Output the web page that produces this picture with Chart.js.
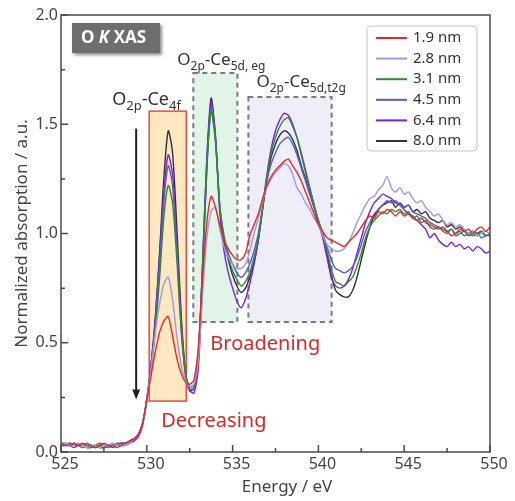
<!DOCTYPE html>
<html>
<head>
<meta charset="utf-8">
<script src="https://cdn.jsdelivr.net/npm/chart.js@4.4.1/dist/chart.umd.min.js"></script>
<style>
  html, body { margin: 0; padding: 0; background: #fff; }
</style>
</head>
<body>
<canvas id="xas" width="515" height="501"></canvas>
<script>
// energy grid, eV (0.25 eV steps from 525 to 550)
const energy = [];
for (let e = 525; e <= 550.001; e += 0.25) energy.push(+e.toFixed(2));

const sizes = ['1.9 nm', '2.8 nm', '3.1 nm', '4.5 nm', '6.4 nm', '8.0 nm'];
const colors = ['#e62828', '#a496e0', '#2e8b2e', '#5a5ac8', '#7a1fe6', '#333333'];

// normalized absorption, one value per grid point (rows = 1 eV)
const nm19 = [
  0.04, 0.03, 0.03, 0.04,  0.03, 0.04, 0.03, 0.03,  0.02, 0.03, 0.04, 0.03,
  0.03, 0.02, 0.03, 0.04,  0.05, 0.06, 0.08, 0.13,
  0.24, 0.35, 0.46, 0.55,  0.60, 0.62, 0.53, 0.43,  0.36, 0.32, 0.31, 0.33,
  0.48, 0.80, 1.05, 1.17,  1.12, 1.04, 0.97, 0.93,  0.90, 0.88, 0.88, 0.91,
  0.99, 1.04, 1.09, 1.16,  1.22, 1.26, 1.29, 1.31,  1.33, 1.34, 1.31, 1.28,
  1.24, 1.19, 1.14, 1.09,  1.04, 1.01, 0.98, 0.97,  0.96, 0.95, 0.94, 0.96,
  0.98, 1.00, 1.03, 1.06,  1.08, 1.07, 1.10, 1.09,  1.11, 1.10, 1.08, 1.10,
  1.08, 1.09, 1.07, 1.06,  1.07, 1.05, 1.04, 1.03,  1.02, 1.03, 1.01, 0.99,
  1.00, 1.02, 1.01, 1.02,  1.00, 1.02, 1.03, 1.01,  1.03
];
const nm28 = [
  0.03, 0.04, 0.03, 0.03,  0.04, 0.03, 0.02, 0.03,  0.03, 0.02, 0.03, 0.03,
  0.04, 0.03, 0.03, 0.03,  0.04, 0.06, 0.08, 0.13,
  0.24, 0.38, 0.55, 0.68,  0.77, 0.80, 0.70, 0.53,  0.40, 0.33, 0.30, 0.31,
  0.42, 0.72, 0.98, 1.10,  1.12, 1.02, 0.94, 0.89,  0.86, 0.84, 0.84, 0.86,
  0.92, 1.00, 1.07, 1.15,  1.21, 1.25, 1.28, 1.30,  1.32, 1.31, 1.27, 1.21,
  1.18, 1.14, 1.11, 1.07,  1.04, 0.99, 0.95, 0.93,  0.92, 0.92, 0.93, 0.96,
  1.00, 1.05, 1.09, 1.13,  1.16, 1.17, 1.20, 1.22,  1.26, 1.21, 1.19, 1.21,
  1.18, 1.19, 1.16, 1.14,  1.15, 1.12, 1.10, 1.08,  1.09, 1.06, 1.04, 1.05,
  1.03, 1.04, 1.02, 1.00,  1.01, 0.99, 1.00, 1.01,  1.00
];
const nm31 = [
  0.04, 0.04, 0.03, 0.04,  0.03, 0.03, 0.04, 0.03,  0.03, 0.04, 0.03, 0.03,
  0.03, 0.04, 0.04, 0.04,  0.05, 0.06, 0.08, 0.13,
  0.24, 0.38, 0.56, 0.80,  1.08, 1.22, 1.14, 0.88,  0.56, 0.36, 0.30, 0.30,
  0.44, 0.85, 1.30, 1.56,  1.42, 1.13, 0.98, 0.89,  0.83, 0.79, 0.76, 0.78,
  0.82, 0.89, 0.98, 1.12,  1.26, 1.37, 1.44, 1.49,  1.52, 1.53, 1.49, 1.44,
  1.36, 1.28, 1.20, 1.13,  1.06, 1.00, 0.92, 0.84,  0.78, 0.77, 0.76, 0.78,
  0.80, 0.85, 0.91, 0.98,  1.03, 1.06, 1.08, 1.10,  1.09, 1.11, 1.10, 1.11,
  1.09, 1.10, 1.07, 1.08,  1.05, 1.06, 1.03, 1.02,  1.03, 1.01, 1.00, 1.02,
  0.99, 1.00, 1.01, 0.99,  1.00, 0.99, 1.01, 0.99,  1.00
];
const nm45 = [
  0.03, 0.03, 0.04, 0.03,  0.03, 0.02, 0.03, 0.03,  0.02, 0.03, 0.03, 0.02,
  0.03, 0.03, 0.04, 0.04,  0.05, 0.06, 0.08, 0.13,
  0.24, 0.39, 0.59, 0.86,  1.15, 1.31, 1.22, 0.93,  0.58, 0.36, 0.29, 0.29,
  0.43, 0.86, 1.33, 1.58,  1.43, 1.13, 0.99, 0.91,  0.86, 0.82, 0.80, 0.82,
  0.86, 0.92, 1.00, 1.12,  1.24, 1.32, 1.37, 1.41,  1.43, 1.44, 1.41, 1.36,
  1.30, 1.24, 1.18, 1.12,  1.06, 1.00, 0.94, 0.88,  0.84, 0.83, 0.82, 0.83,
  0.85, 0.89, 0.95, 1.01,  1.05, 1.09, 1.11, 1.13,  1.15, 1.14, 1.15, 1.13,
  1.12, 1.13, 1.10, 1.09,  1.08, 1.07, 1.05, 1.04,  1.03, 1.02, 1.01, 1.02,
  1.00, 1.01, 0.99, 1.00,  0.99, 1.00, 0.98, 0.99,  0.99
];
const nm64 = [
  0.03, 0.03, 0.03, 0.02,  0.03, 0.03, 0.02, 0.02,  0.03, 0.02, 0.02, 0.03,
  0.02, 0.03, 0.03, 0.03,  0.04, 0.05, 0.07, 0.12,
  0.24, 0.40, 0.61, 0.90,  1.20, 1.36, 1.27, 0.96,  0.60, 0.36, 0.28, 0.27,
  0.38, 0.80, 1.30, 1.60,  1.44, 1.10, 0.92, 0.82,  0.75, 0.69, 0.66, 0.70,
  0.77, 0.86, 0.97, 1.12,  1.27, 1.39, 1.47, 1.52,  1.55, 1.54, 1.50, 1.44,
  1.37, 1.29, 1.21, 1.13,  1.05, 0.98, 0.89, 0.80,  0.76, 0.75, 0.76, 0.79,
  0.84, 0.91, 0.98, 1.05,  1.10, 1.14, 1.16, 1.18,  1.17, 1.16, 1.14, 1.13,
  1.11, 1.09, 1.08, 1.06,  1.04, 1.02, 0.98, 1.00,  0.97, 0.95, 0.94, 0.96,
  0.94, 0.95, 0.93, 0.94,  0.92, 0.94, 0.93, 0.91,  0.92
];
const nm80 = [
  0.04, 0.03, 0.04, 0.03,  0.03, 0.03, 0.02, 0.03,  0.02, 0.03, 0.02, 0.03,
  0.03, 0.03, 0.04, 0.04,  0.05, 0.06, 0.08, 0.13,
  0.24, 0.40, 0.62, 0.92,  1.26, 1.47, 1.37, 1.03,  0.63, 0.37, 0.28, 0.29,
  0.42, 0.86, 1.35, 1.62,  1.45, 1.12, 0.96, 0.88,  0.81, 0.76, 0.73, 0.75,
  0.80, 0.87, 0.97, 1.11,  1.25, 1.35, 1.41, 1.45,  1.47, 1.46, 1.43, 1.38,
  1.31, 1.25, 1.18, 1.12,  1.05, 0.99, 0.91, 0.81,  0.74, 0.72, 0.71, 0.71,
  0.74, 0.80, 0.88, 0.96,  1.03, 1.08, 1.11, 1.13,  1.14, 1.15, 1.12, 1.14,
  1.12, 1.13, 1.10, 1.11,  1.09, 1.10, 1.07, 1.06,  1.05, 1.06, 1.03, 1.04,
  1.02, 1.03, 1.01, 1.00,  1.01, 1.00, 1.01, 0.99,  1.00
];
const series = [nm19, nm28, nm31, nm45, nm64, nm80];

// shaded regions [E from, E to, y from, y to]
const box4f  = [530.14, 532.30, 0.233, 1.56];
const boxEg  = [532.71, 535.28, 0.595, 1.735];
const boxT2g = [535.92, 540.77, 0.595, 1.625];

const FONT = '"Noto Sans", "DejaVu Sans", sans-serif';

// text with subscripts: parts = [[text, isSub], ...]
function subText(ctx, x, y, parts, size, color) {
    ctx.save();
    ctx.fillStyle = color;
    ctx.textBaseline = 'alphabetic';
    ctx.textAlign = 'left';
    let cx = x;
    parts.forEach(([t, sub]) => {
        const fs = sub ? Math.round(size * 0.7) : size;
        ctx.font = fs + 'px ' + FONT;
        ctx.fillText(t, cx, sub ? y + size * 0.3 : y);
        cx += ctx.measureText(t).width;
    });
    ctx.restore();
}

const decorations = {
    id: 'decorations',
    beforeDatasetsDraw(chart) {
        const { ctx, scales: { x, y } } = chart;
        const rect = (b, fill, stroke, dash) => {
            const l = x.getPixelForValue(b[0]), r = x.getPixelForValue(b[1]);
            const t = y.getPixelForValue(b[3]), bt = y.getPixelForValue(b[2]);
            ctx.save();
            ctx.fillStyle = fill;
            ctx.fillRect(l, t, r - l, bt - t);
            ctx.strokeStyle = stroke;
            ctx.lineWidth = dash ? 2 : 1.5;
            ctx.setLineDash(dash || []);
            ctx.strokeRect(l, t, r - l, bt - t);
            ctx.restore();
        };
        rect(box4f, '#fde8c2', '#ec4a3c', null);
        rect(boxEg, '#e2f3e8', '#7a7a7a', [5, 4]);
        rect(boxT2g, '#efedf7', '#7a7a7a', [5, 4]);
    },
    afterDatasetsDraw(chart) {
        const { ctx, scales: { x, y } } = chart;
        // downward arrow next to the Ce4f peak
        const ax = x.getPixelForValue(529.38);
        const ay0 = y.getPixelForValue(1.48), ay1 = y.getPixelForValue(0.24);
        ctx.save();
        ctx.strokeStyle = '#222';
        ctx.fillStyle = '#222';
        ctx.lineWidth = 2;
        ctx.beginPath();
        ctx.moveTo(ax, ay0);
        ctx.lineTo(ax, ay1 - 8);
        ctx.stroke();
        ctx.beginPath();
        ctx.moveTo(ax - 4, ay1 - 10);
        ctx.lineTo(ax + 4, ay1 - 10);
        ctx.lineTo(ax, ay1);
        ctx.closePath();
        ctx.fill();
        ctx.restore();

        subText(ctx, x.getPixelForValue(527.98), y.getPixelForValue(1.588),
            [['O', 0], ['2p', 1], ['-Ce', 0], ['4f', 1]], 18, '#333');
        subText(ctx, x.getPixelForValue(531.78), y.getPixelForValue(1.771),
            [['O', 0], ['2p', 1], ['-Ce', 0], ['5d, eg', 1]], 17, '#333');
        subText(ctx, x.getPixelForValue(536.39), y.getPixelForValue(1.670),
            [['O', 0], ['2p', 1], ['-Ce', 0], ['5d,t2g', 1]], 17, '#333');

        ctx.save();
        ctx.fillStyle = '#d42a2a';
        ctx.font = '20px ' + FONT;
        ctx.textBaseline = 'alphabetic';
        ctx.fillText('Broadening', x.getPixelForValue(533.70), y.getPixelForValue(0.467));
        ctx.fillText('Decreasing', x.getPixelForValue(530.84), y.getPixelForValue(0.114));
        ctx.restore();
    },
    afterDraw(chart) {
        const { ctx, chartArea: a, scales: { x, y } } = chart;
        ctx.save();
        // frame
        ctx.strokeStyle = '#4a4a4a';
        ctx.lineWidth = 1.5;
        ctx.strokeRect(a.left, a.top, a.right - a.left, a.bottom - a.top);
        // inward ticks
        ctx.beginPath();
        for (let e = 525; e <= 550; e += 2.5) {
            const px = x.getPixelForValue(e);
            const len = (e % 5 === 0) ? 7 : 4;
            ctx.moveTo(px, a.bottom);
            ctx.lineTo(px, a.bottom - len);
        }
        for (let v = 0; v <= 2; v += 0.25) {
            const py = y.getPixelForValue(v);
            const len = (Math.abs(v * 2 - Math.round(v * 2)) < 1e-6) ? 7 : 4;
            ctx.moveTo(a.left, py);
            ctx.lineTo(a.left + len, py);
        }
        ctx.stroke();

        // x axis title, sits a little right of centre
        ctx.fillStyle = '#444';
        ctx.font = '17px ' + FONT;
        ctx.textAlign = 'center';
        ctx.textBaseline = 'middle';
        ctx.fillText('Energy / eV', 287, 487);
        ctx.textAlign = 'left';

        // "O K XAS" tag
        const bx = a.left + 11, by = a.top + 8;
        ctx.save();
        ctx.shadowColor = 'rgba(0,0,0,0.45)';
        ctx.shadowBlur = 3;
        ctx.shadowOffsetX = 2;
        ctx.shadowOffsetY = 2;
        ctx.fillStyle = '#6e6e6e';
        ctx.fillRect(bx, by, 88, 30);
        ctx.restore();
        ctx.fillStyle = '#fff';
        ctx.textBaseline = 'middle';
        let tx = bx + 9;
        [['O ', 'bold'], ['K', 'italic bold'], [' XAS', 'bold']].forEach(([t, st]) => {
            ctx.font = st + ' 17px ' + FONT;
            ctx.fillText(t, tx, by + 15);
            tx += ctx.measureText(t).width;
        });

        // legend
        const lw = 110, lh = 125;
        const lx = a.right - 13 - lw, ly = a.top + 11;
        ctx.fillStyle = '#fff';
        ctx.strokeStyle = '#c4c4c4';
        ctx.lineWidth = 1;
        ctx.beginPath();
        ctx.roundRect(lx, ly, lw, lh, 4);
        ctx.fill();
        ctx.stroke();
        ctx.font = '15px ' + FONT;
        ctx.textBaseline = 'middle';
        chart.data.datasets.forEach((ds, i) => {
            const ry = ly + 12 + i * 20.6;
            ctx.strokeStyle = ds.borderColor;
            ctx.lineWidth = 2;
            ctx.beginPath();
            ctx.moveTo(lx + 9, ry);
            ctx.lineTo(lx + 40, ry);
            ctx.stroke();
            ctx.fillStyle = '#333';
            ctx.fillText(ds.label, lx + 46, ry);
        });
        ctx.restore();
    }
};

const datasets = series.map((vals, i) => ({
    label: sizes[i],
    data: energy.map((e, j) => ({ x: e, y: vals[j] })),
    borderColor: colors[i],
    borderWidth: 1.4,
    pointRadius: 0,
    tension: 0.25,
    fill: false,
}));

new Chart(document.getElementById('xas'), {
    type: 'line',
    data: { datasets },
    options: {
        responsive: false,
        animation: false,
        layout: { padding: { top: 15, right: 25, left: 0, bottom: 0 } },
        plugins: { legend: { display: false }, tooltip: { enabled: false } },
        scales: {
            x: {
                type: 'linear',
                min: 525,
                max: 550,
                grid: { display: false, drawTicks: false },
                border: { display: false },
                ticks: {
                    stepSize: 5,
                    color: '#444',
                    padding: 3,
                    labelOffset: 4,
                    font: { family: FONT, size: 16 },
                },
                afterFit: s => { s.height = 49; },
            },
            y: {
                min: 0,
                max: 2,
                grid: { display: false, drawTicks: false },
                border: { display: false },
                ticks: {
                    stepSize: 0.5,
                    color: '#444',
                    padding: 3,
                    font: { family: FONT, size: 16 },
                    callback: v => v.toFixed(1),
                },
                title: {
                    display: true,
                    text: 'Normalized absorption / a.u.',
                    color: '#444',
                    font: { family: FONT, size: 17 },
                    padding: { top: 12, bottom: 0 },
                },
                afterFit: s => { s.width = 61; },
            },
        },
    },
    plugins: [decorations],
});
</script>
</body>
</html>
